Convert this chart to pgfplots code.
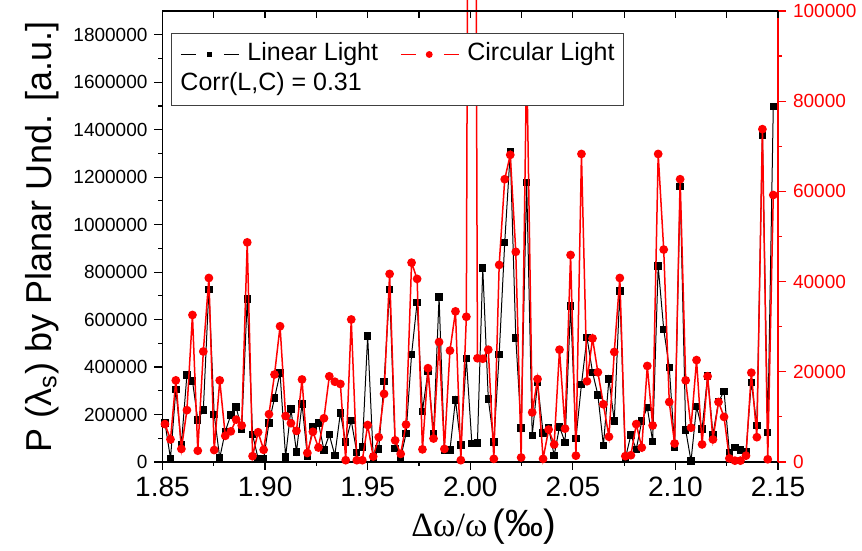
\documentclass[border=0pt]{standalone}
\usepackage{fontspec}
\setmainfont{Liberation Sans}
\newfontfamily\seriffont{Liberation Serif}
\usepackage{pgfplots}
\pgfplotsset{compat=1.18}
\usepackage{pgfplotstable}

\pgfplotstableread{
x L C
1.8512 165000 8400
1.8539 15000 5000
1.8565 305000 18100
1.8592 74000 2900
1.8619 367000 11500
1.8646 342000 32600
1.8672 177000 2500
1.8699 219000 24500
1.8726 727000 40800
1.8752 200000 2650
1.8779 17000 18100
1.8806 129000 5800
1.8833 198000 6800
1.8859 231000 9400
1.8886 137000 8100
1.8913 687000 48700
1.8939 115000 1300
1.8966 15000 6600
1.8993 12000 2700
1.9019 165000 10600
1.9046 269000 19400
1.9073 375000 30100
1.9100 21000 10200
1.9126 224000 8600
1.9153 42000 6900
1.9180 245000 18300
1.9206 24000 2000
1.9233 148000 6700
1.9260 165000 3200
1.9287 50000 9700
1.9313 115000 19000
1.9340 28000 17800
1.9367 207000 17300
1.9393 84000 400
1.9420 174000 31600
1.9447 41000 400
1.9474 64000 400
1.9500 530000 8200
1.9527 21000 1200
1.9554 55000 5500
1.9580 338000 15100
1.9607 726000 41700
1.9634 57000 4800
1.9661 18000 1800
1.9687 119000 8300
1.9714 453000 44200
1.9741 673000 40600
1.9767 214000 2800
1.9794 383000 20800
1.9821 119000 5200
1.9848 695000 26600
1.9874 50000 2900
1.9901 50000 24700
1.9928 262000 33400
1.9954 71000 400
1.9981 436000 32200
2.0008 77000 400000
2.0035 80000 23000
2.0061 817000 22900
2.0088 265000 24900
2.0115 85000 700
2.0141 453000 43700
2.0168 924000 62700
2.0195 1307000 68100
2.0222 523000 46600
2.0248 144000 1000
2.0275 1178000 90000
2.0302 112000 11000
2.0328 335000 18400
2.0355 123000 700
2.0382 144000 7200
2.0409 28000 3900
2.0435 148000 24900
2.0462 83000 7400
2.0489 657000 45900
2.0515 98000 1400
2.0542 327000 68300
2.0569 524000 17900
2.0596 378000 27400
2.0622 283000 19900
2.0649 70000 12800
2.0676 350000 5600
2.0702 172000 24400
2.0729 720000 40800
2.0756 15000 1300
2.0783 114000 1500
2.0809 53000 8400
2.0836 172000 3200
2.0863 230000 21300
2.0889 87000 8100
2.0916 825000 68300
2.0943 559000 47100
2.0970 399000 13300
2.0996 64000 4100
2.1023 1160000 62700
2.1050 135000 18100
2.1076 4000 7600
2.1103 233000 22600
2.1130 139000 3900
2.1157 363000 19000
2.1183 116000 5000
2.1210 254000 13300
2.1237 298000 10000
2.1263 41000 800
2.1290 60000 300
2.1317 50000 300
2.1344 43000 1400
2.1370 336000 19800
2.1397 153000 5500
2.1424 1378000 73800
2.1450 125000 600
2.1477 1497000 59200
}\datatable

\begin{document}
\begin{tikzpicture}
\path[use as bounding box] (-81.25pt,-44.5pt) rectangle (349.75pt,231pt);
\pgfplotsset{
  every axis/.append style={
    scale only axis, width=307.75pt, height=225.5pt,
    xmin=1.85, xmax=2.15,
    at={(0pt,0pt)}, anchor=south west,
    /pgf/number format/assume math mode=true,
  },
}
% main (left, black) axis
\begin{axis}[
  ymin=0, ymax=1900000,
  tick pos=left, tick align=outside,
  xtick={1.85,1.9,1.95,2,2.05,2.1,2.15},
  xticklabels={1.85,1.90,1.95,2.00,2.05,2.10,2.15},
  minor xtick={1.875,1.925,1.975,2.025,2.075,2.125},
  ytick={0,200000,400000,600000,800000,1000000,1200000,1400000,1600000,1800000},
  minor ytick={100000,300000,500000,700000,900000,1100000,1300000,1500000,1700000},
  scaled y ticks=false,
  yticklabel style={font=\fontsize{9.5}{10}\selectfont, /pgf/number format/fixed, /pgf/number format/1000 sep={}},
  xticklabel style={font=\fontsize{14}{16}\selectfont},
  major tick length=4pt, minor tick length=2pt,
  every tick/.style={black, line width=0.6pt},
  axis line style={line width=0.75pt},
  xlabel={{\seriffont\fontsize{17}{20}\selectfont Δω/ω} {\fontsize{19}{22}\selectfont(‰)}},
  xlabel style={at={(axis description cs:0.522,-0.1441)}, anchor=center},
  ylabel={P (λ\textsubscript{s}) by Planar Und. [a.u.]},
  ylabel style={at={(axis description cs:-0.1958,0.5)}, anchor=center, font=\fontsize{18}{21}\selectfont},
]
\addplot[black, line width=0.5pt, mark=square*, mark size=1.6pt, mark options={solid}] table[x=x,y=L]{\datatable};
\end{axis}
% right (red) axis
\begin{axis}[
  ymin=0, ymax=100000,
  axis y line*=right, axis x line=none,
  tick align=outside,
  ytick={0,20000,40000,60000,80000,100000},
  minor ytick={10000,30000,50000,70000,90000},
  scaled y ticks=false,
  yticklabel style={red, font=\fontsize{9.5}{10}\selectfont, /pgf/number format/fixed, /pgf/number format/1000 sep={}},
  major tick length=4pt, minor tick length=2pt,
  every tick/.style={red, line width=0.6pt},
  y axis line style={red, line width=0.75pt},
  clip=false,
  legend columns=2,
  legend cell align=left,
  legend image code/.code={
    \draw[#1,mark=none] (0pt,0pt) -- (7.5pt,0pt);
    \draw[#1,mark=none] (21.5pt,0pt) -- (29pt,0pt);
    \draw[#1,only marks] plot coordinates {(14.25pt,0pt)};
  },
  legend style={
    at={(0,1)}, anchor=north west, xshift=4.25pt, yshift=-11pt,
    draw=black!75, line width=0.5pt, fill=white,
    font=\fontsize{12.5}{14}\selectfont,
    inner sep=4.5pt,
    nodes={inner sep=0pt, text height=9pt, text depth=3pt},
    column sep=4pt, row sep=3pt,
    /tikz/every even column/.append style={column sep=11pt},
  },
]
\addlegendimage{black, line width=0.5pt, mark=square*, mark size=1.2pt}
\addlegendentry{Linear Light}
\addlegendimage{red, line width=0.6pt, mark=*, mark size=1.4pt, mark options={solid, fill=red, draw=red}}
\addlegendentry{Circular Light}
\addlegendimage{empty legend}
\addlegendentry{\hspace{-33.5pt}Corr(L,C) = 0.31}
\addplot[red, line width=0.75pt, mark=*, mark size=1.8pt, mark options={solid}, forget plot] table[x=x,y=C]{\datatable};
\end{axis}
% top ticks
\begin{axis}[
  ymin=0, ymax=1,
  axis x line*=top, axis y line=none,
  tick align=inside,
  xtick={1.85,1.875,1.9,1.925,1.95,1.975,2,2.025,2.05,2.075,2.1,2.125,2.15},
  xticklabels={},
  major tick length=3.5pt,
  every tick/.style={black, line width=0.6pt},
  axis line style={line width=0.75pt},
]
\end{axis}
\end{tikzpicture}
\end{document}
